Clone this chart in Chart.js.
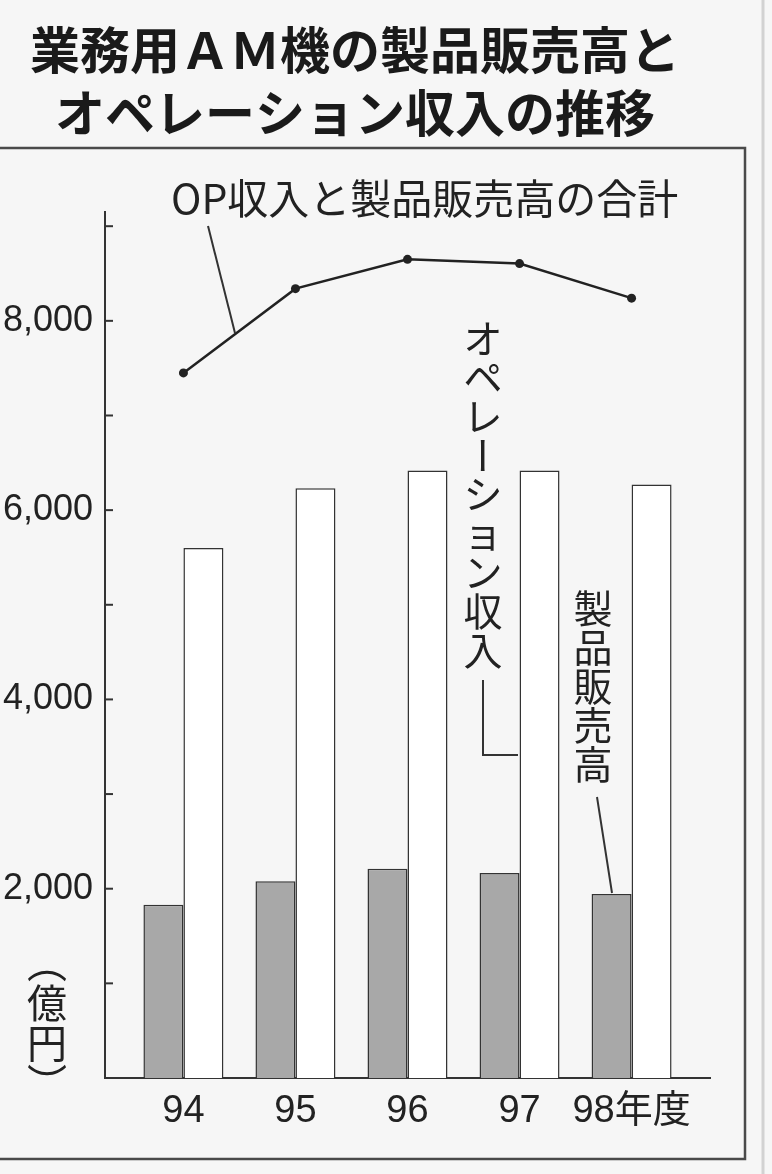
<!DOCTYPE html>
<html lang="ja">
<head>
<meta charset="utf-8">
<title>業務用ＡＭ機の製品販売高とオペレーション収入の推移</title>
<script src="https://cdn.jsdelivr.net/npm/chart.js@4/dist/chart.umd.min.js"></script>
<style>
body { margin: 0; background: #f6f6f6; }
</style>
</head>
<body>
<canvas id="chart" width="772" height="1174"></canvas>
<script>
// data (億円)
const years = ["94", "95", "96", "97", "98年度"];
const productSales = [1830, 2080, 2210, 2165, 1945];
const operationIncome = [5600, 6230, 6420, 6420, 6270];
const totalIncome = [7450, 8340, 8650, 8605, 8240];
const yTickValues = [0, 1000, 2000, 3000, 4000, 5000, 6000, 7000, 8000, 9000];
const yLabelValues = [2000, 4000, 6000, 8000];

const numFont = '"Liberation Sans Narrow", "Liberation Sans", "Noto Sans CJK JP", sans-serif';
const jpFont = '"Noto Sans CJK JP", sans-serif';
const ink = "#222";

function toPoints(values) {
    return values.map((v, i) => ({ x: i, y: v }));
}

// stack characters top to bottom, turning the ones that lie sideways
function drawVertical(ctx, text, cx, top, size) {
    ctx.save();
    ctx.font = size + "px " + jpFont;
    ctx.fillStyle = ink;
    ctx.textAlign = "center";
    ctx.textBaseline = "middle";
    [...text].forEach((ch, i) => {
        const cy = top + size * i + size / 2;
        if ("ー（）".includes(ch)) {
            ctx.save();
            ctx.translate(cx, cy);
            ctx.rotate(Math.PI / 2);
            ctx.fillText(ch, 0, 0);
            ctx.restore();
        } else {
            ctx.fillText(ch, cx, cy);
        }
    });
    ctx.restore();
}

function line(ctx, pts, width) {
    ctx.beginPath();
    ctx.moveTo(pts[0][0], pts[0][1]);
    pts.slice(1).forEach(p => ctx.lineTo(p[0], p[1]));
    ctx.lineWidth = width;
    ctx.stroke();
}

const framePlugin = {
    id: "frame",
    beforeDraw(chart) {
        const ctx = chart.ctx;
        ctx.save();
        ctx.strokeStyle = "#d2d2d2";
        line(ctx, [[763, 0], [763, 1174]], 3);
        ctx.strokeStyle = "#4a4a4a";
        line(ctx, [[0, 148], [745, 148], [745, 1159], [0, 1159]], 2.5);
        ctx.restore();
    }
};

const notesPlugin = {
    id: "notes",
    afterDraw(chart) {
        const ctx = chart.ctx;
        const y = chart.scales.y;
        ctx.save();
        ctx.strokeStyle = "#333";

        // inward tick marks every 1,000
        y.ticks.forEach(t => {
            if (t.value > 0) {
                const py = y.getPixelForValue(t.value);
                line(ctx, [[y.right, py], [y.right + 8, py]], 2);
            }
        });

        ctx.fillStyle = ink;
        ctx.font = "41px " + jpFont;
        ctx.textAlign = "left";
        ctx.textBaseline = "middle";
        ctx.fillText("OP収入と製品販売高の合計", 171, 198);
        line(ctx, [[208, 226], [235, 333]], 2);

        drawVertical(ctx, "オペレーション収入", 483, 319, 39);
        line(ctx, [[483, 680], [483, 755], [518, 755]], 2);

        drawVertical(ctx, "製品販売高", 593, 589, 39);
        line(ctx, [[597, 797], [612, 893]], 2);

        drawVertical(ctx, "（億円）", 47, 943, 40);
        ctx.restore();
    }
};

new Chart(document.getElementById("chart"), {
    type: "bar",
    data: {
        datasets: [
            {
                label: "製品販売高",
                data: toPoints(productSales),
                backgroundColor: "#a8a8a8",
                borderColor: "#333",
                borderWidth: 1.5,
                categoryPercentage: 0.714,
                barPercentage: 1,
                order: 2
            },
            {
                label: "オペレーション収入",
                data: toPoints(operationIncome),
                backgroundColor: "#ffffff",
                borderColor: "#333",
                borderWidth: 1.5,
                categoryPercentage: 0.714,
                barPercentage: 1,
                order: 2
            },
            {
                type: "line",
                label: "OP収入と製品販売高の合計",
                data: toPoints(totalIncome),
                borderColor: ink,
                borderWidth: 2.5,
                pointRadius: 4.5,
                pointBackgroundColor: ink,
                pointBorderWidth: 0,
                tension: 0,
                order: 1
            }
        ]
    },
    options: {
        responsive: false,
        animation: false,
        layout: { padding: { left: 0, right: 62, top: 0, bottom: 0 } },
        plugins: {
            legend: { display: false },
            tooltip: { enabled: false },
            title: {
                display: true,
                text: ["業務用ＡＭ機の製品販売高と", "オペレーション収入の推移"],
                color: "#1a1a1a",
                font: { family: jpFont, size: 50, weight: "bold", lineHeight: 1.25 },
                padding: { top: 19, bottom: 68 }
            }
        },
        scales: {
            x: {
                type: "linear",
                min: -0.7,
                max: 4.7,
                offset: false,
                afterBuildTicks: s => { s.ticks = years.map((_, i) => ({ value: i })); },
                afterFit: s => { s.height = 96; },
                grid: { display: false, drawTicks: false },
                border: { display: true, color: "#333", width: 2 },
                ticks: {
                    autoSkip: false,
                    maxRotation: 0,
                    padding: 11,
                    color: ink,
                    font: { family: numFont, size: 38 },
                    callback: v => years[v] ?? ""
                }
            },
            y: {
                min: 0,
                max: 9150,
                afterBuildTicks: s => { s.ticks = yTickValues.map(v => ({ value: v })); },
                afterFit: s => { s.width = 105; },
                grid: { display: false, drawTicks: false },
                border: { display: true, color: "#333", width: 2 },
                ticks: {
                    autoSkip: false,
                    padding: 12,
                    color: ink,
                    font: { family: numFont, size: 36 },
                    callback: v => yLabelValues.includes(v) ? v.toLocaleString("en-US") : ""
                }
            }
        }
    },
    plugins: [framePlugin, notesPlugin]
});
</script>
</body>
</html>
